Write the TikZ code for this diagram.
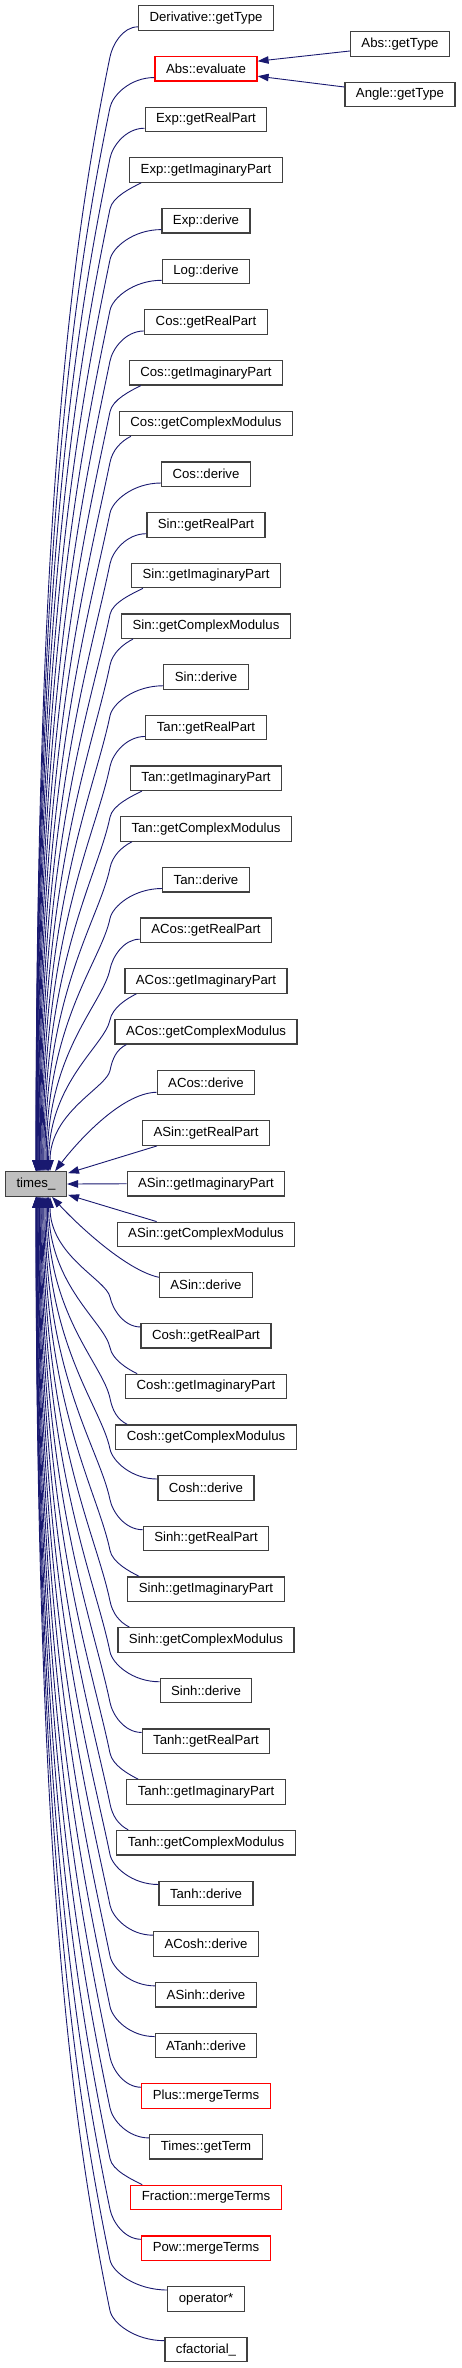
\documentclass[tikz,border=0pt]{standalone}
\usepackage{fontspec}
\setmainfont{Liberation Sans}
\usetikzlibrary{arrows.meta,calc}
\definecolor{edgec}{HTML}{191970}
\definecolor{boxc}{HTML}{404040}
\definecolor{redc}{HTML}{FF0000}
\definecolor{fillc}{HTML}{BFBFBF}
\begin{document}
\begin{tikzpicture}[x=1pt,y=1pt,
  fn/.style={draw=boxc, line width=1.2pt, rectangle, minimum height=24.5pt,
    inner xsep=11pt, inner ysep=0pt, font=\fontsize{13.2}{15}\selectfont, text=black},
  rn/.style={fn, draw=redc},
  cur/.style={fn, fill=fillc},
  edge/.style={draw=edgec, line width=0.9pt, -{Triangle[length=11pt,width=7.5pt]}},
]
\useasboundingbox (0,0) rectangle (461,-2368);

\foreach \i/\lab/\sty in {
 0/Derivative::getType/fn, 1/Abs::evaluate/rn, 2/Exp::getRealPart/fn,
 3/Exp::getImaginaryPart/fn, 4/Exp::derive/fn, 5/Log::derive/fn,
 6/Cos::getRealPart/fn, 7/Cos::getImaginaryPart/fn, 8/Cos::getComplexModulus/fn,
 9/Cos::derive/fn, 10/Sin::getRealPart/fn, 11/Sin::getImaginaryPart/fn,
 12/Sin::getComplexModulus/fn, 13/Sin::derive/fn, 14/Tan::getRealPart/fn,
 15/Tan::getImaginaryPart/fn, 16/Tan::getComplexModulus/fn, 17/Tan::derive/fn,
 18/ACos::getRealPart/fn, 19/ACos::getImaginaryPart/fn, 20/ACos::getComplexModulus/fn,
 21/ACos::derive/fn, 22/ASin::getRealPart/fn, 23/ASin::getImaginaryPart/fn,
 24/ASin::getComplexModulus/fn, 25/ASin::derive/fn, 26/Cosh::getRealPart/fn,
 27/Cosh::getImaginaryPart/fn, 28/Cosh::getComplexModulus/fn, 29/Cosh::derive/fn,
 30/Sinh::getRealPart/fn, 31/Sinh::getImaginaryPart/fn, 32/Sinh::getComplexModulus/fn,
 33/Sinh::derive/fn, 34/Tanh::getRealPart/fn, 35/Tanh::getImaginaryPart/fn,
 36/Tanh::getComplexModulus/fn, 37/Tanh::derive/fn, 38/ACosh::derive/fn,
 39/ASinh::derive/fn, 40/ATanh::derive/fn, 41/Plus::mergeTerms/rn,
 42/Times::getTerm/fn, 43/Fraction::mergeTerms/rn, 44/Pow::mergeTerms/rn,
 45/operator*/fn, 46/cfactorial\_/fn}
{
  \node[\sty] (n\i) at (206,{-(18+50.685*\i)}) {\lab};
}

\node[cur] (t) at (36,-1184) {times\_};
\node[fn] (absget) at (400,-44) {Abs::getType};
\node[fn] (angget) at (400,-94.5) {Angle::getType};

% callers above times_
\foreach \i in {0,...,20}{
\draw[edge] let \p1=(n\i.south west), \p2=(t.north),
 \n1={\x1<132 ? \x1+12 : \x1},
 \n2={\x1<132 ? \y1 : \y1+4},
 \n3={\x1<132 ? \x1+2 : \x1-0.55*(\x1-110)},
 \n4={\x1<132 ? \y1-5 : \y1+4},
 \n5={\y1-26},
 \n6={\x2+14*(\i/20)^2},
 \n7={\n5-\y2}
 in (\n1,\n2) .. controls (\n3,\n4) and (112.4,{\n5+12}) .. (110,\n5)
 .. controls ({110-0.035*\n7},{\n5-0.17*\n7}) and (\n6,{\y2+0.59*\n7}) .. (\n6,\y2);
}

% callers below times_
\foreach \i in {26,...,46}{
\draw[edge] let \p1=(n\i.north west), \p2=(t.south),
 \n1={\x1<132 ? \x1+12 : \x1},
 \n2={\x1<132 ? \y1 : \y1-4},
 \n3={\x1<132 ? \x1+2 : \x1-0.55*(\x1-110)},
 \n4={\x1<132 ? \y1+5 : \y1-4},
 \n5={\y1+26},
 \n6={\x2+14*((46-\i)/20)^2},
 \n7={\y2-\n5}
 in (\n1,\n2) .. controls (\n3,\n4) and (112.4,{\n5-12}) .. (110,\n5)
 .. controls ({110-0.035*\n7},{\n5+0.17*\n7}) and (\n6,{\y2-0.59*\n7}) .. (\n6,\y2);
}

% near callers
\draw[edge] ($(n21.south west)+(0,3)$) .. controls (120,-1093) and (75,-1145) .. ($(t.north east)+(-12,0)$);
\draw[edge] ($(n22.south west)+(15,0)$) -- ($(t.north east)+(1,-2)$);
\draw[edge] (n23.west) -- (t.east);
\draw[edge] ($(n24.north west)+(40,0)$) -- ($(t.south east)+(1,2)$);
\draw[edge] ($(n25.north west)+(0,-5)$) .. controls (125,-1270) and (75,-1222) .. ($(t.south east)+(-15,0)$);

% callers of Abs::evaluate
\draw[edge] ($(absget.west)+(0,-7)$) -- ($(n1.east)+(0,7.5)$);
\draw[edge] ($(angget.west)+(0,7.5)$) -- ($(n1.east)+(0,-7.5)$);
\end{tikzpicture}
\end{document}
